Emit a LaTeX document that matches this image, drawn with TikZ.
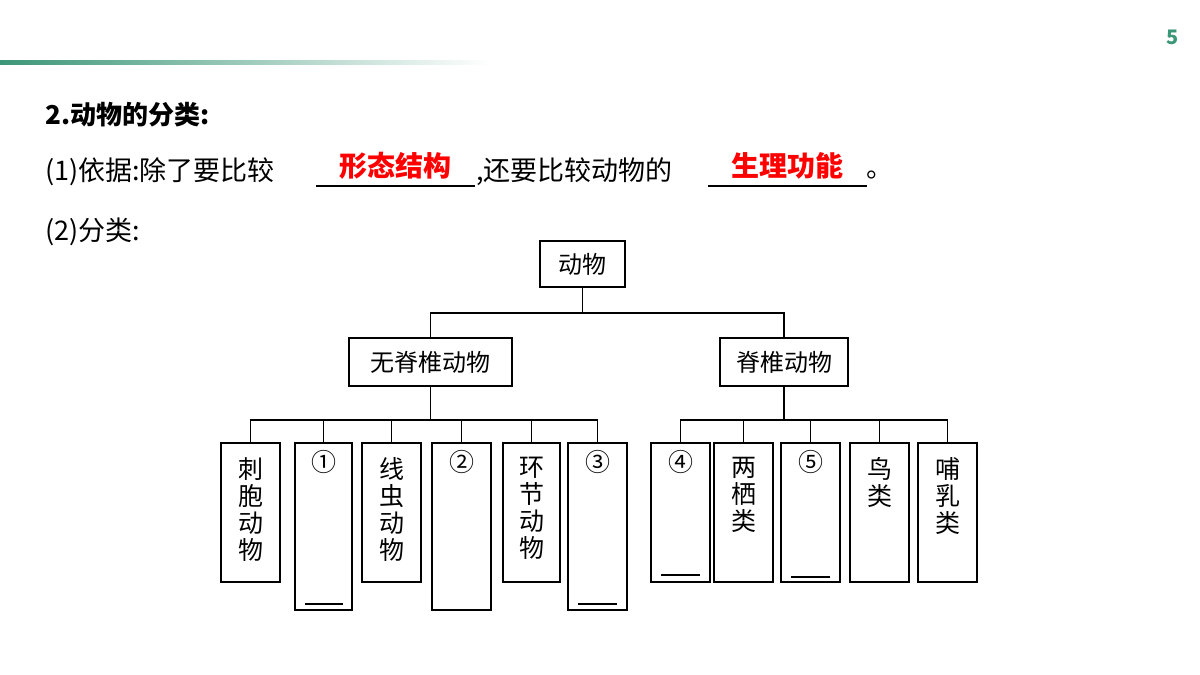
\documentclass[tikz,border=0pt]{standalone}
\usepackage{fontspec}
\setmainfont{Noto Sans CJK SC}
\definecolor{HeadGreen}{RGB}{60,150,120}
\colorlet{AnswerRed}{red}
\tikzset{
    box/.style={draw=black, line width=1.3pt, inner sep=0pt},
    bus/.style={draw=black, line width=1.3pt},
    txt/.style={font=\fontsize{24}{27}\selectfont, inner sep=0pt},
    line/.style={font=\fontsize{27}{30}\selectfont, inner sep=0pt},
    col/.style={font=\fontsize{25}{27}\selectfont, inner sep=0pt, align=center}
}
\begin{document}
\begin{tikzpicture}[x=1pt, y=-1pt]
    \useasboundingbox (0,0) rectangle (1200,675);

    % Kopf
    \shade[left color=HeadGreen, right color=white] (0,60) rectangle (490,64);
    \node[font=\bfseries\fontsize{20}{22}\selectfont, text=HeadGreen] (page) at (1173,37) {5};

    \node[txt, anchor=west, font=\bfseries\fontsize{26}{28}\selectfont] (title) at (45,115) {2.动物的分类:};
    \node[line, anchor=west] (lineA) at (45,172) {(1)依据:除了要比较};
    \coordinate (uA1) at (316,186);
    \coordinate (uA2) at (475,186);
    \draw[line width=1.3pt] (uA1) -- (uA2);
    \node[txt, text=AnswerRed, font=\bfseries\fontsize{28}{30}\selectfont] (ansA) at (395,166) {形态结构};
    \node[line, anchor=west] (lineB) at (476,172) {,还要比较动物的};
    \coordinate (uB1) at (708,186);
    \coordinate (uB2) at (867,186);
    \draw[line width=1.3pt] (uB1) -- (uB2);
    \node[txt, text=AnswerRed, font=\bfseries\fontsize{28}{30}\selectfont] (ansB) at (787,166) {生理功能};
    \node[line, anchor=west] (dot) at (866,175) {。};
    \node[line, anchor=west] (lineC) at (45,232) {(2)分类:};

    % Baum
    \node[box, minimum width=85pt, minimum height=46pt, txt] (root) at (582.5,264) {动物};
    \node[box, minimum width=163pt, minimum height=48pt, txt] (inv) at (430.5,362) {无脊椎动物};
    \node[box, minimum width=128pt, minimum height=48pt, txt] (ver) at (784,362) {脊椎动物};

    \coordinate (hub) at (582.5,313);
    \draw[bus] (root.south) -- (hub);
    \draw[bus] (inv.north) |- (hub) -| (ver.north);

    % Spalten: Name/links/rechts/unten/Oberkante Text/Text
    \foreach \n/\l/\r/\b/\y/\t in {c1/221/280/582/457/刺\\胞\\动\\物, c2/295/352/610/450/①, c3/362/421/582/457/线\\虫\\动\\物,
        c4/432/491/610/450/②, c5/503/560/582/457/环\\节\\动\\物, c6/568/627/610/450/③,
        d1/651/710/582/450/④, d2/714/773/582/457/两\\栖\\类, d3/781/840/582/450/⑤,
        d4/850/909/582/457/鸟\\类, d5/918/977/582/457/哺\\乳\\类} {
        \draw[box] (\l,443) rectangle (\r,\b);
        \node[col, anchor=north] (\n) at ({(\l+\r)/2},\y) {\t};
        \coordinate (\n top) at ({(\l+\r)/2},443);
    }

    \draw[bus] (inv.south) -- (430.5,420);
    \draw[bus] (c1top) -- (250.5,420) -- (597.5,420) -- (c6top);
    \foreach \n in {c2,c3,c4,c5} \draw[bus] (\n top) -- ++(0,-23);
    \draw[bus] (ver.south) -- (784,420);
    \draw[bus] (d1top) -- (680.5,420) -- (947.5,420) -- (d5top);
    \foreach \n in {d2,d3,d4} \draw[bus] (\n top) -- ++(0,-23);

    % Antwortlinien
    \draw[line width=1.3pt] (305,604) -- (343,604);
    \draw[line width=1.3pt] (578,604) -- (617,604);
    \draw[line width=1.3pt] (661,575) -- (700,575);
    \draw[line width=1.3pt] (791,577) -- (830,577);
\end{tikzpicture}
\end{document}
